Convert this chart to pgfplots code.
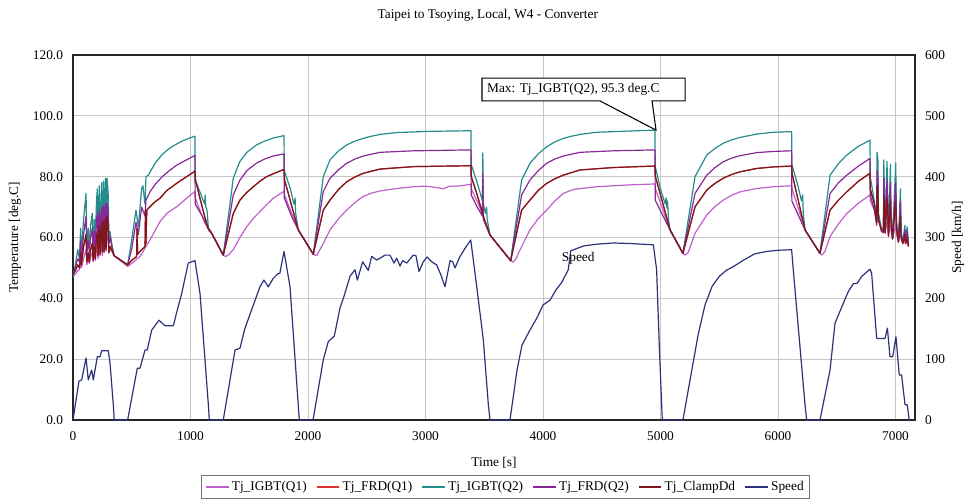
\documentclass[border=0pt]{standalone}
\usepackage{fontspec}
\setmainfont{Liberation Serif}
\usepackage{pgfplots}
\usepackage{pgfplotstable}
\pgfplotsset{compat=1.18}
\definecolor{cOrchid}{RGB}{192,96,204}
\definecolor{cRed}{RGB}{224,48,48}
\definecolor{cTeal}{RGB}{38,140,140}
\definecolor{cPurple}{RGB}{136,40,150}
\definecolor{cMaroon}{RGB}{125,25,30}
\definecolor{cNavy}{RGB}{45,50,125}

\pgfplotstableread{
t v
0 47
20 48
40 49
55 49.5
65 52
72 50
90 53
111 56
118 51
130 53
139 51.5
150 53.5
164 55
172 52
182 55
190 52.5
200 56
207 57
213 53
224 58
230 54
244 59
250 54
260 60
266 55
276 61
282 55.5
290 61
300 60
305 55
315 56
330 55.5
350 54
465 50.5
500 51.5
570 53.7
655 59.2
740 65.2
800 68
882 70.1
967 72.9
1038 75.2
1040 73
1080 69
1120 65
1160 62
1180 61.4
1279 54.2
1300 53.7
1330 54.5
1364 56
1420 60
1478 63.5
1535 66.3
1591 68.5
1648 70.8
1705 72.9
1796 75.2
1800 74
1860 68
1917 62.5
2045 54.5
2073 54
2130 58
2187 62.5
2260 66.2
2329 69
2400 71.5
2470 73.5
2540 74.6
2613 75.3
2700 75.8
2800 76.3
2896 76.7
3000 76.9
3100 76.4
3150 76
3200 76.8
3300 77
3387 77.5
3390 76
3450 71
3500 66
3549 60.8
3725 52.4
3745 51.9
3770 53
3804 55.9
3889 62.5
3960 66.2
4031 69
4100 72
4173 74.5
4258 75.8
4457 76.7
4740 77.3
4953 77.6
4957 76
5081 62.5
5191 54.8
5210 54.2
5235 55
5294 61.4
5394 67.4
5464 70.2
5534 72.3
5605 73.9
5677 75
5819 76.1
5960 76.7
6116 77
6120 76
6230 62.5
6357 54.8
6375 54.2
6400 55.5
6443 60.3
6515 64.5
6585 67.9
6685 71.3
6783 74
6785 72
6820 69
6840 65
6843 68
6850 68
6855 65.5
6880 63
6898 62.5
6900 66
6908 65
6912 62
6928 65
6935 63.5
6940 61
6957 64
6962 62
6975 60
7002 64
7008 61
7025 59
7042 61
7048 59.5
7062 58.5
7080 59
7085 58
7100 58
7110 57.5
}\tIgbtA

\pgfplotstableread{
t v
0 47
20 51
40 56
55 53
65 63
72 55
90 66
111 74.5
118 57
130 63
139 57
150 64
164 68
172 57
182 66
190 58
200 72
207 76
213 59
224 77
230 60
244 78
250 61
260 78.5
266 62
276 79.5
282 63
290 79.5
300 74
305 60
315 62
330 58
350 54
465 51
499 59
536 69
556 63.5
584 76
595 77
613 71
621 80
641 80.5
700 84.5
760 87.3
820 89.3
880 90.7
940 91.9
1000 92.8
1038 93.3
1040 79
1100 73
1120 71
1125 74
1130 70
1138 69.6
1145 67
1152 63
1180 61.4
1279 54.2
1364 79.5
1420 85
1480 88
1560 90.4
1630 91.7
1705 92.7
1796 93.5
1798 82
1850 76
1880 71
1890 73
1895 68
1917 62.5
2045 54.5
2130 80
2187 85.5
2260 88.5
2329 90.4
2400 91.7
2470 92.6
2540 93.3
2613 93.9
2755 94.5
2896 94.7
3038 94.9
3200 95
3387 95.1
3389 84
3440 78
3470 74
3485 72
3488 87.8
3492 71
3510 68
3520 70
3525 66
3549 60.8
3725 52.4
3818 78.9
3889 84.4
3960 87.5
4031 89.8
4100 91.4
4173 92.6
4243 93.3
4315 93.9
4457 94.6
4598 94.8
4800 95.1
4953 95.3
4955 83.3
5000 76
5040 71
5048 73
5055 69.6
5060 72
5068 66
5081 62.5
5191 54.8
5294 80
5394 87.1
5464 89.3
5534 91
5605 92.1
5677 92.9
5819 94
5960 94.6
6116 94.8
6118 84
6170 77
6200 72
6210 74
6215 68
6230 62.5
6357 54.8
6443 80.5
6515 84.3
6585 87.1
6685 90
6783 92
6785 80
6820 72
6840 66
6843 88
6850 86
6855 68
6880 63
6898 62
6900 85.5
6908 72
6912 62
6928 85
6935 70
6940 61
6957 84
6962 68
6975 60
7002 84.5
7008 66
7025 59
7042 76
7048 62
7062 58.5
7080 64
7085 60
7100 63.5
7110 58
}\tIgbtB

\pgfplotstableread{
t v
0 47.5
20 50
40 53
55 52
65 59
72 53
90 61
111 67
118 55
130 59
139 55
150 60
164 63
172 55
182 62
190 56
200 66
207 68
213 57
224 69
230 58
244 70
250 58
260 70.5
266 59
276 71
282 60
290 71.5
300 68
305 58
315 60
330 57
350 54
465 51
499 56
536 65
556 61
584 70
613 67
621 72.3
655 75
700 77.5
760 80
820 82
880 83.7
940 85
1000 86.2
1038 87
1040 71
1100 67
1140 64
1180 61.4
1279 54.2
1364 74
1420 78.8
1480 82
1560 84.4
1630 85.8
1705 86.8
1796 87.5
1798 73
1860 67
1917 62.5
2045 54.5
2130 75.1
2187 79.5
2260 82.3
2329 84.4
2400 85.8
2470 86.8
2613 88
2896 88.5
3387 88.8
3389 74
3440 70
3485 67
3488 81
3492 66
3549 60.8
3725 52.4
3818 74
3889 78.9
3960 82
4031 84.4
4100 85.8
4173 86.8
4315 88
4598 88.5
4953 88.8
4955 72.3
5081 62.5
5191 54.8
5294 74.5
5394 80.5
5464 83
5534 84.9
5605 86.1
5677 86.9
5819 87.9
5960 88.3
6116 88.5
6118 72
6230 62.5
6357 54.8
6443 74.5
6515 78
6585 80.5
6685 83.5
6783 86
6785 74
6820 69
6840 64
6843 82
6850 80
6855 66
6880 62
6898 61.5
6900 79.5
6908 70
6912 61.5
6928 79
6935 68
6940 60.5
6957 78
6962 66
6975 59.5
7002 78
7008 64
7025 58.5
7042 72
7048 61
7062 58
7080 62.5
7085 59
7100 62
7110 57.5
}\tFrdB

\pgfplotstableread{
t v
0 48
20 49
40 51
55 50
65 55
72 51
90 57
111 61
118 52
130 55
139 52
150 56
164 58
172 52.5
182 57
190 53
200 60
207 62
213 54
224 64
230 54.5
244 65
250 55
260 65.5
266 55.5
276 66.5
282 56
290 67
300 63
305 55
315 57
330 56
350 54
465 51
499 52.5
541 53.7
545 63
550 54.5
584 56
613 57
617 69
621 58
628 69
655 70.1
700 71.8
740 72.9
800 75.5
882 77.8
967 80
1038 81.8
1042 79
1080 73
1120 67
1150 63
1180 61.4
1279 54.2
1364 67.9
1421 72.3
1478 74.8
1535 76.7
1591 78.5
1648 80
1720 81.2
1796 82.4
1800 79
1850 72
1917 62.5
2045 54.5
2130 69
2187 72.3
2260 75.8
2329 78.3
2400 79.9
2470 81.1
2613 82.5
2896 83.3
3387 83.6
3390 80
3440 74
3500 66
3549 60.8
3725 52.4
3818 69
3889 72.3
3960 75.5
4031 77.8
4100 79.3
4173 80.5
4315 82.2
4598 83
4953 83.5
4957 80
5000 74
5081 62.5
5191 54.8
5294 70.1
5394 75.6
5464 77.8
5534 79.5
5605 80.7
5677 81.6
5819 82.7
5960 83.2
6116 83.5
6120 81
6230 62.5
6357 54.8
6443 69
6515 72.3
6585 75
6685 78.5
6783 81.1
6785 76
6820 71
6840 65
6843 77
6850 76
6855 66
6880 62.5
6898 62
6900 74
6908 69
6912 61.5
6928 73
6935 67
6940 60.5
6957 72
6962 65
6975 59.5
7002 72
7008 63
7025 58.5
7042 67
7048 60
7062 58
7080 61
7085 58
7100 60
7110 57
}\tClamp

\pgfplotstableread{
t v
0 0
51 64
74 66
111 102
130 66
159 82
173 66
207 104
230 104
244 114
300 114
315 94
343 25
351 0
465 0
547 85
570 85
613 115
632 115
670 148
732 164
783 155
854 155
888 181
925 208
981 258
1038 262
1081 208
1152 25
1160 0
1279 0
1379 115
1421 118
1464 151
1535 189
1591 219
1625 230
1662 219
1705 233
1747 241
1760 241
1796 277
1847 219
1917 25
1926 0
2043 0
2130 99
2173 129
2224 138
2272 184
2306 203
2357 236
2400 247
2420 230
2465 260
2513 246
2542 269
2584 263
2613 266
2655 271
2698 271
2732 258
2755 266
2783 253
2806 262
2840 258
2896 271
2919 270
2945 244
2981 260
3015 268
3053 260
3095 255
3132 238
3166 219
3209 262
3231 260
3251 250
3294 269
3336 282
3385 296
3436 219
3492 132
3535 25
3549 0
3719 0
3779 82
3821 123
3889 148
3949 168
4000 189
4060 197
4111 214
4162 227
4215 247
4236 278
4343 286
4457 289
4598 291
4750 290
4939 288
4967 247
4990 120
5010 25
5015 0
5191 0
5260 75
5320 140
5380 190
5440 220
5500 236
5560 246
5619 252
5700 262
5800 273
5900 277
6000 279
6116 280
6130 247
6230 25
6244 0
6357 0
6443 82
6485 159
6556 192
6598 211
6641 224
6675 225
6712 236
6783 248
6797 241
6840 134
6911 134
6931 151
6953 104
6976 104
7004 137
7032 74
7052 74
7081 25
7100 25
7117 0
}\tSpeed

\begin{document}
\begin{tikzpicture}
\pgfplotsset{
  every tick label/.append style={font=\fontsize{10}{12}\selectfont},
  every axis label/.append style={font=\fontsize{10}{12}\selectfont},
}
\begin{axis}[
  at={(0,0)}, anchor=south west,
  scale only axis, width=631.5pt, height=273.75pt,
  xmin=0, xmax=7166, ymin=0, ymax=120,
  xtick={0,1000,...,7000}, ytick={0,20,...,120},
  /pgf/number format/assume math mode=true,
  x tick label style={/pgf/number format/set thousands separator={}, yshift=-5pt},
  y tick label style={/pgf/number format/fixed, /pgf/number format/fixed zerofill, /pgf/number format/precision=1, xshift=-4pt},
  grid=major, grid style={color=black!22, line width=0.6pt},
  major tick length=0pt,
  axis line style={line width=1.2pt, black!85},
  title={Taipei to Tsoying, Local, W4 - Converter},
  title style={at={(axis description cs:0.4926,1.1096)}, anchor=center, yshift=-6pt, font=\fontsize{10}{12}\selectfont},
  xlabel={Time [s]},
  xlabel style={at={(axis description cs:0.5,-0.1178)}, anchor=center},
  ylabel={Temperature [deg.C]},
  ylabel style={at={(axis description cs:-0.0689,0.5)}, anchor=center},
  legend columns=6,
  legend style={at={(axis description cs:0.514,-0.1836)}, anchor=center, draw=black!55, line width=0.6pt, font=\fontsize{10}{12}\selectfont, inner sep=2.5pt, /tikz/every even column/.append style={column sep=5pt}},
  legend image code/.code={\draw[#1, line width=1pt] (0pt,0pt) -- (17pt,0pt);},
  every axis plot/.append style={line width=0.9pt, line join=round},
]
\addplot[cOrchid, no marks] table[x=t, y=v] {\tIgbtA};
\addlegendentry{Tj\_IGBT(Q1)}
\addplot[cRed, no marks] table[x=t, y=v] {\tClamp};
\addlegendentry{Tj\_FRD(Q1)}
\addplot[cTeal, no marks] table[x=t, y=v] {\tIgbtB};
\addlegendentry{Tj\_IGBT(Q2)}
\addplot[cPurple, no marks] table[x=t, y=v] {\tFrdB};
\addlegendentry{Tj\_FRD(Q2)}
\addplot[cMaroon, no marks] table[x=t, y=v] {\tClamp};
\addlegendentry{Tj\_ClampDd}
\addlegendimage{cNavy}
\addlegendentry{Speed}
\draw[black, line width=0.8pt, fill=white] (axis cs:3481,112.4) -- (axis cs:5209,112.4) -- (axis cs:5209,104.9) -- (axis cs:4928,104.9) -- (axis cs:4962,95.3) -- (axis cs:4485,104.9) -- (axis cs:3481,104.9) -- cycle;
\node[anchor=west, inner sep=0pt, font=\fontsize{10}{12}\selectfont] at (axis cs:3523,108.65) {Max: Tj\_IGBT(Q2), 95.3 deg.C};
\end{axis}
\begin{axis}[
  at={(0,0)}, anchor=south west,
  scale only axis, width=631.5pt, height=273.75pt,
  xmin=0, xmax=7166, ymin=0, ymax=600,
  axis x line=none, axis y line*=right,
  ytick={0,100,...,600},
  /pgf/number format/assume math mode=true,
  y tick label style={xshift=4pt},
  major tick length=0pt,
  axis line style={line width=1.2pt, black!85},
  ylabel={Speed [km/h]},
  ylabel style={at={(axis description cs:1.0511,0.5)}, anchor=center},
]
\addplot[cNavy, no marks, line width=0.9pt, line join=round] table[x=t, y=v] {\tSpeed};
\node[font=\fontsize{10}{12}\selectfont, inner sep=1pt] at (axis cs:4300,266) {Speed};
\end{axis}
\path (-54.75pt,-60pt) rectangle (672.75pt,315pt);
\end{tikzpicture}
\end{document}
